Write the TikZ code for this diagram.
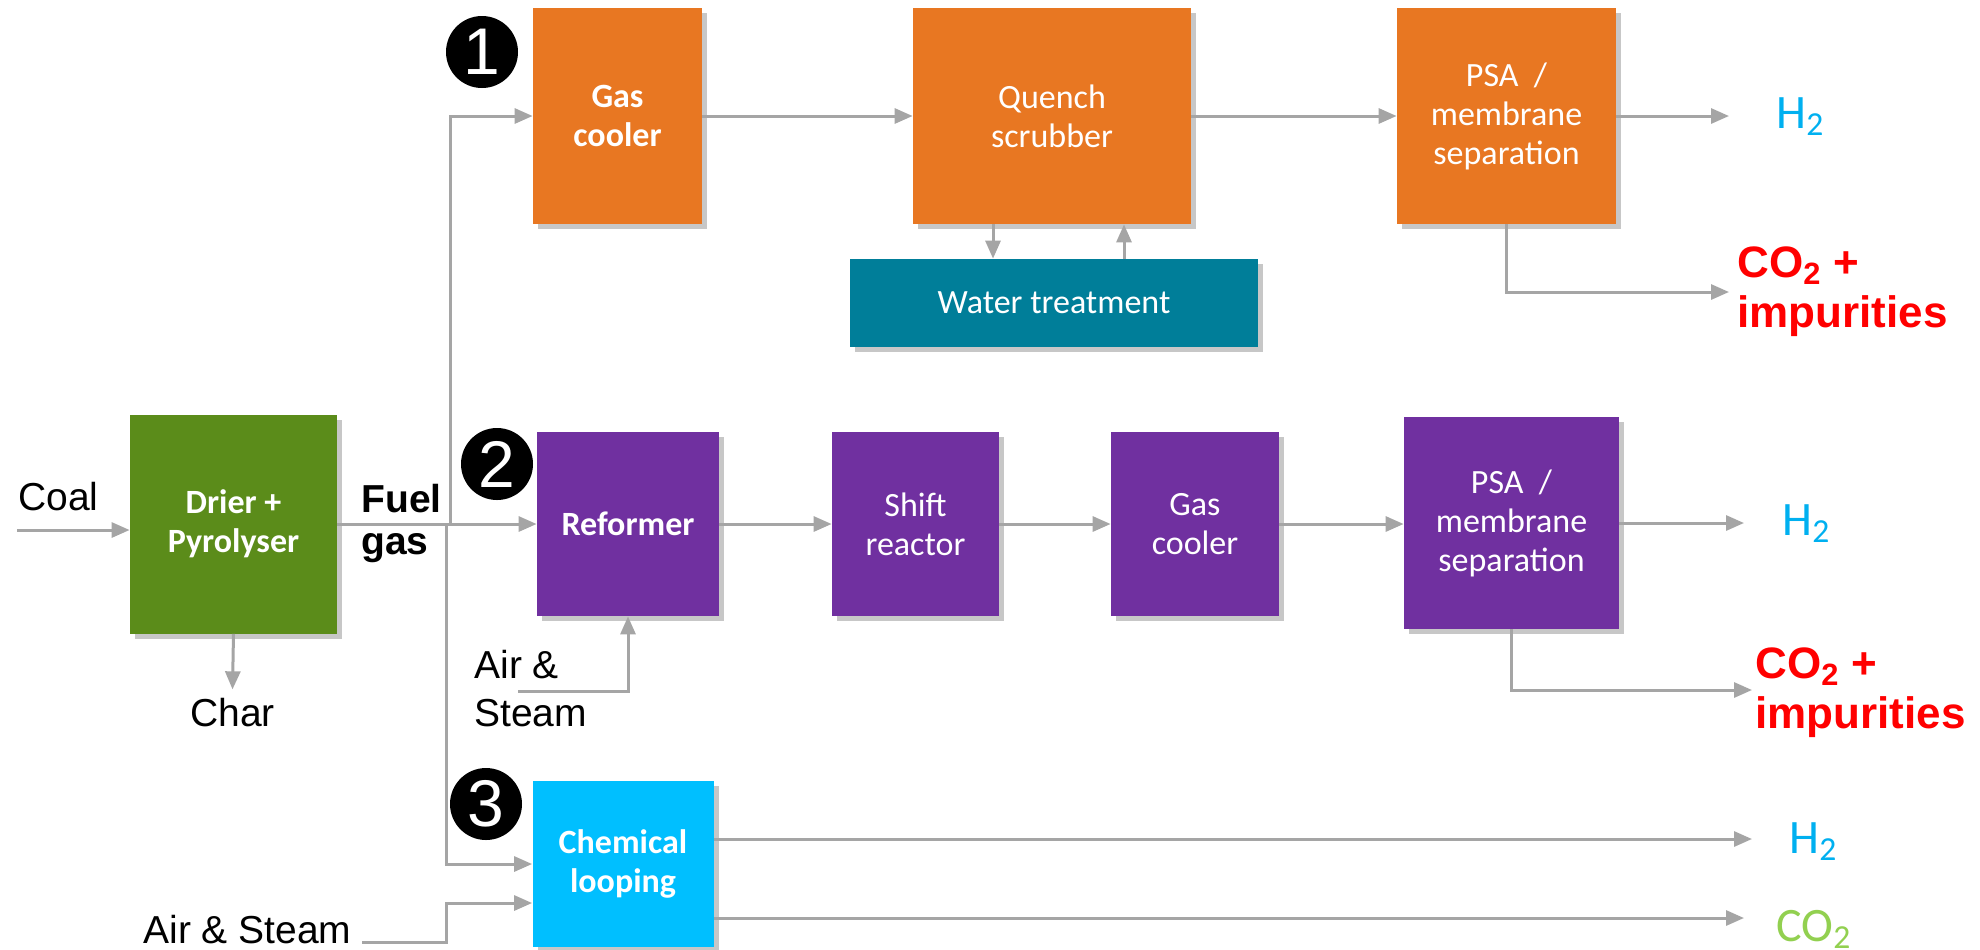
\documentclass[tikz,border=0pt]{standalone}
\usepackage{fontspec}
\setmainfont{Liberation Sans}
\newfontfamily\calib{Carlito}
\usetikzlibrary{arrows.meta,shadows}
\definecolor{cOrange}{HTML}{E87722}
\definecolor{cTeal}{HTML}{007E99}
\definecolor{cGreen}{HTML}{5B8C1A}
\definecolor{cPurple}{HTML}{7030A0}
\definecolor{cCyan}{HTML}{00BFFF}
\definecolor{cHtwo}{HTML}{00B0F0}
\definecolor{cRed}{HTML}{FF0000}
\definecolor{cLime}{HTML}{92D050}
\definecolor{cGray}{HTML}{A5A5A5}
\begin{document}
\begin{tikzpicture}[x=0.5pt,y=-0.5pt,
  box/.style={rectangle, inner sep=2pt, text=white, align=center,
    font=\calib\fontsize{17}{19.5}\selectfont,
    drop shadow={shadow xshift=2.5pt, shadow yshift=-2.5pt, opacity=0.22, fill=black}},
  bbox/.style={box, font=\calib\bfseries\fontsize{17}{19.5}\selectfont},
  arr/.style={draw=cGray, line width=1.5pt, -{Triangle[length=9pt,width=7.5pt]}},
  lbl/.style={font=\fontsize{19.5}{24}\selectfont, inner sep=0pt, align=left},
  numc/.style={circle, fill=black, minimum size=36pt, inner sep=0pt, text=white,
    font=\fontsize{33}{33}\selectfont},
  htwo/.style={text=cHtwo, font=\calib\fontsize{24}{28}\selectfont, inner sep=0pt},
  cotwo/.style={text=cLime, font=\calib\fontsize{24}{28}\selectfont, inner sep=0pt},
  imp/.style={text=cRed, font=\bfseries\fontsize{22}{25}\selectfont, align=left, inner sep=0pt}
]
\fill[white] (0,0) rectangle (1980,949);
\useasboundingbox (0,0) rectangle (1980,949);

% ---- boxes ----
\node[bbox, fill=cOrange, minimum width=84.5pt, minimum height=108pt] (gc1) at (617.5,116) {Gas\\cooler};
\node[box, fill=cOrange, minimum width=139pt, minimum height=108pt] (quench) at (1052,116) {Quench\\scrubber};
\node[box, fill=cOrange, minimum width=109.5pt, minimum height=108pt] (psa1) at (1506.5,116) {PSA\ \ /\\membrane\\separation};
\node[box, fill=cTeal, minimum width=204pt, minimum height=44pt] (water) at (1054,303) {Water treatment};
\node[bbox, fill=cGreen, minimum width=103.5pt, minimum height=109.5pt] (drier) at (233.5,524) {Drier +\\Pyrolyser};
\node[bbox, fill=cPurple, minimum width=91pt, minimum height=92pt] (reformer) at (628,524) {Reformer};
\node[box, fill=cPurple, minimum width=83.5pt, minimum height=92pt] (shift) at (915.5,524) {Shift\\reactor};
\node[box, fill=cPurple, minimum width=84pt, minimum height=92pt] (gc2) at (1195,524) {Gas\\cooler};
\node[box, fill=cPurple, minimum width=107.5pt, minimum height=106pt] (psa2) at (1511.5,523) {PSA\ \ /\\membrane\\separation};
\node[bbox, fill=cCyan, minimum width=90.5pt, minimum height=83pt] (chem) at (623,864) {Chemical\\looping};

% ---- number markers ----
\node[numc] (n1) at (482,52) {1};
\node[numc] (n2) at (497,464) {2};
\node[numc] (n3) at (486,804) {3};

% ---- labels ----
\node[lbl, anchor=base west] (coal) at (18,510) {Coal};
\node[lbl, anchor=base] (char) at (232.5,726) {Char};
\node[lbl, anchor=north west, font=\bfseries\fontsize{19.5}{21}\selectfont] (fuel) at (361,484) {Fuel\\gas};
\node[lbl, anchor=north west] (airA) at (474,650) {Air \&\\Steam};
\node[lbl, anchor=base west] (airB) at (143,943) {Air \& Steam};
\node[htwo, anchor=base west] (h2a) at (1776,128) {H\textsubscript{2}};
\node[htwo, anchor=base west] (h2b) at (1782,535) {H\textsubscript{2}};
\node[htwo, anchor=base west] (h2c) at (1789,853) {H\textsubscript{2}};
\node[cotwo, anchor=base west] (co2c) at (1776,941) {CO\textsubscript{2}};
\node[imp, anchor=north west] (impa) at (1737,246) {CO\textsubscript{2} +\\impurities};
\node[imp, anchor=north west] (impb) at (1755,647) {CO\textsubscript{2} +\\impurities};

% ---- free-end coordinates ----
\coordinate (coalin) at (17,530);
\coordinate (split) at (450,524);
\coordinate (splitL) at (446,524);
\coordinate (ab0) at (362,942);
\coordinate (ab1) at (446,903);
\coordinate (as0) at (518,691);
\coordinate (h2end1) at (1729,116);
\coordinate (co2end1) at (1729,292);
\coordinate (h2end2) at (1744,523);
\coordinate (co2end2) at (1752,690);
\coordinate (h2end3) at (1752,839);
\coordinate (co2end3) at (1744,918);

% ---- connectors ----
\draw[arr] (coalin) -- (coalin -| drier.west);
\draw[arr] (drier.south) -- ([yshift=4pt]char.north);
\draw[arr] (drier.east) -- (reformer.west);
\draw[arr] (split) |- (gc1.west);
\draw[arr] (splitL) |- (chem.west);
\draw[arr] (ab0) -| (ab1) -- (ab1 -| chem.west);
\draw[arr] (as0) -| (reformer.south);

\draw[arr] (gc1.east) -- (quench.west);
\draw[arr] (quench.east) -- (psa1.west);
\draw[arr] (psa1.east) -- (h2end1);
\draw[arr] (psa1.south) |- (co2end1);
\draw[arr] ([xshift=-29.5pt]quench.south) -- ([xshift=-29.5pt]quench.south |- water.north);
\draw[arr] ([xshift=36pt]quench.south |- water.north) -- ([xshift=36pt]quench.south);

\draw[arr] (reformer.east) -- (shift.west);
\draw[arr] (shift.east) -- (gc2.west);
\draw[arr] (gc2.east) -- (gc2.east -| psa2.west);
\draw[arr] (psa2.east) -- (h2end2);
\draw[arr] (psa2.south) |- (co2end2);

\draw[arr] (chem.east |- h2end3) -- (h2end3);
\draw[arr] (chem.east |- co2end3) -- (co2end3);
\end{tikzpicture}
\end{document}
